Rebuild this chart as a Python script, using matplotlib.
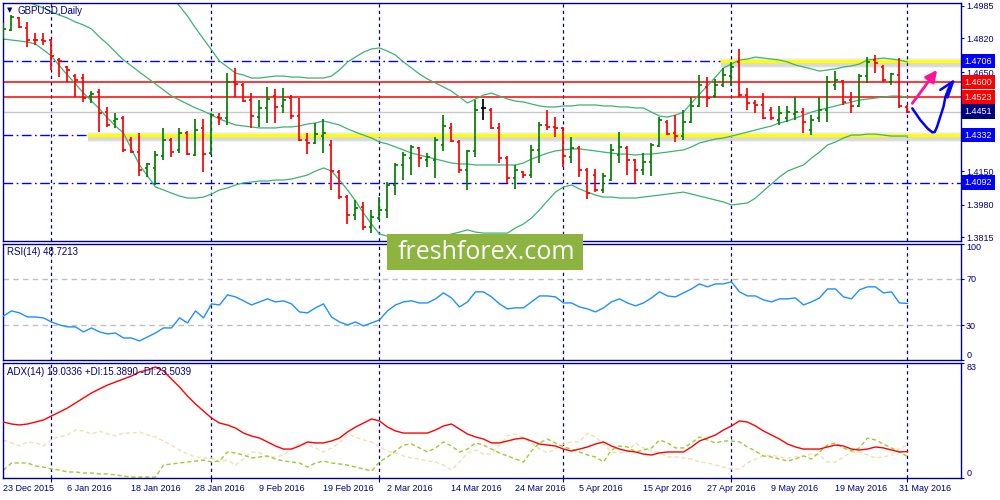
import numpy as np
import pandas as pd
import matplotlib
matplotlib.use("Agg")
import matplotlib.pyplot as plt
from matplotlib.collections import LineCollection
from matplotlib.patches import Rectangle
from matplotlib.transforms import blended_transform_factory
import matplotlib.patheffects as pe

plt.rcParams['font.family'] = ['Liberation Sans', 'DejaVu Sans']

# ---------------- data ----------------
title = "GBPUSD,Daily"
dates = pd.bdate_range("2015-12-23", "2016-06-01")
dates = dates[~dates.isin(pd.to_datetime(["2015-12-25", "2016-01-01"]))]

opens = [1.4857, 1.4863, 1.4923, 1.4873, 1.4812, 1.4812, 1.4812, 1.4711, 1.4676, 1.4630,
         1.4620, 1.4529, 1.4549, 1.4448, 1.4403, 1.4418, 1.4307, 1.4246, 1.4166, 1.4166,
         1.4226, 1.4307, 1.4257, 1.4342, 1.4231, 1.4368, 1.4241, 1.4423, 1.4418, 1.4600,
         1.4585, 1.4509, 1.4423, 1.4469, 1.4529, 1.4479, 1.4519, 1.4428, 1.4307, 1.4292,
         1.4327, 1.4282, 1.4145, 1.4019, 1.3928, 1.3969, 1.3868, 1.3913, 1.3954, 1.4080,
         1.4181, 1.4216, 1.4267, 1.4206, 1.4206, 1.4282, 1.4368, 1.4297, 1.4156, 1.4252,
         1.4469, 1.4459, 1.4368, 1.4216, 1.4115, 1.4145, 1.4130, 1.4257, 1.4383, 1.4373,
         1.4368, 1.4221, 1.4267, 1.4156, 1.4130, 1.4055, 1.4105, 1.4231, 1.4267, 1.4206,
         1.4156, 1.4196, 1.4277, 1.4398, 1.4342, 1.4327, 1.4398, 1.4479, 1.4575, 1.4529,
         1.4585, 1.4630, 1.4701, 1.4534, 1.4494, 1.4484, 1.4459, 1.4408, 1.4418, 1.4438,
         1.4448, 1.4358, 1.4418, 1.4459, 1.4585, 1.4605, 1.4509, 1.4479, 1.4630, 1.4711,
         1.4676, 1.4600, 1.4635, 1.4474]
highs = [1.4898, 1.4938, 1.4928, 1.4903, 1.4847, 1.4847, 1.4817, 1.4721, 1.4681, 1.4640,
         1.4640, 1.4554, 1.4565, 1.4474, 1.4443, 1.4428, 1.4322, 1.4342, 1.4191, 1.4252,
         1.4368, 1.4317, 1.4368, 1.4352, 1.4413, 1.4413, 1.4443, 1.4443, 1.4646, 1.4671,
         1.4595, 1.4544, 1.4509, 1.4575, 1.4565, 1.4570, 1.4534, 1.4519, 1.4342, 1.4393,
         1.4413, 1.4307, 1.4156, 1.4029, 1.4004, 1.3994, 1.3954, 1.4019, 1.4095, 1.4191,
         1.4246, 1.4282, 1.4272, 1.4241, 1.4322, 1.4433, 1.4393, 1.4307, 1.4257, 1.4509,
         1.4514, 1.4469, 1.4393, 1.4226, 1.4181, 1.4150, 1.4282, 1.4398, 1.4459, 1.4423,
         1.4373, 1.4322, 1.4277, 1.4166, 1.4161, 1.4140, 1.4287, 1.4348, 1.4277, 1.4211,
         1.4241, 1.4292, 1.4423, 1.4408, 1.4433, 1.4459, 1.4524, 1.4635, 1.4625, 1.4615,
         1.4671, 1.4701, 1.4767, 1.4570, 1.4509, 1.4544, 1.4474, 1.4479, 1.4479, 1.4524,
         1.4469, 1.4433, 1.4524, 1.4630, 1.4655, 1.4610, 1.4549, 1.4640, 1.4726, 1.4736,
         1.4686, 1.4645, 1.4721, 1.4484]
lows = [1.4817, 1.4857, 1.4873, 1.4777, 1.4787, 1.4787, 1.4661, 1.4625, 1.4600, 1.4524,
        1.4499, 1.4494, 1.4347, 1.4373, 1.4368, 1.4246, 1.4241, 1.4125, 1.4120, 1.4080,
        1.4206, 1.4221, 1.4241, 1.4231, 1.4226, 1.4145, 1.4231, 1.4383, 1.4383, 1.4524,
        1.4499, 1.4368, 1.4373, 1.4393, 1.4393, 1.4443, 1.4413, 1.4302, 1.4236, 1.4287,
        1.4241, 1.4055, 1.4009, 1.3883, 1.3903, 1.3853, 1.3837, 1.3903, 1.3913, 1.4029,
        1.4105, 1.4130, 1.4171, 1.4171, 1.4115, 1.4252, 1.4297, 1.4140, 1.4055, 1.4221,
        1.4408, 1.4363, 1.4191, 1.4090, 1.4060, 1.4115, 1.4115, 1.4191, 1.4358, 1.4322,
        1.4171, 1.4191, 1.4120, 1.4009, 1.4044, 1.4039, 1.4100, 1.4191, 1.4130, 1.4090,
        1.4130, 1.4125, 1.4272, 1.4332, 1.4297, 1.4307, 1.4393, 1.4474, 1.4474, 1.4519,
        1.4575, 1.4580, 1.4524, 1.4459, 1.4443, 1.4413, 1.4408, 1.4383, 1.4398, 1.4408,
        1.4342, 1.4332, 1.4398, 1.4398, 1.4560, 1.4484, 1.4443, 1.4474, 1.4595, 1.4645,
        1.4600, 1.4585, 1.4469, 1.4443]
closes = [1.4868, 1.4928, 1.4878, 1.4812, 1.4810, 1.4807, 1.4731, 1.4706, 1.4661, 1.4610,
          1.4519, 1.4539, 1.4443, 1.4383, 1.4413, 1.4257, 1.4246, 1.4156, 1.4186, 1.4231,
          1.4307, 1.4246, 1.4342, 1.4236, 1.4358, 1.4236, 1.4433, 1.4418, 1.4600, 1.4590,
          1.4504, 1.4428, 1.4469, 1.4514, 1.4474, 1.4509, 1.4428, 1.4307, 1.4292, 1.4337,
          1.4342, 1.4150, 1.4019, 1.3928, 1.3964, 1.3868, 1.3918, 1.3954, 1.4080, 1.4181,
          1.4231, 1.4272, 1.4216, 1.4221, 1.4307, 1.4378, 1.4302, 1.4156, 1.4252, 1.4459,
          1.4469, 1.4368, 1.4216, 1.4115, 1.4156, 1.4130, 1.4257, 1.4383, 1.4373, 1.4368,
          1.4226, 1.4267, 1.4156, 1.4039, 1.4055, 1.4125, 1.4257, 1.4272, 1.4206, 1.4156,
          1.4196, 1.4282, 1.4408, 1.4337, 1.4327, 1.4398, 1.4479, 1.4585, 1.4519, 1.4585,
          1.4635, 1.4676, 1.4534, 1.4494, 1.4484, 1.4418, 1.4418, 1.4443, 1.4448, 1.4448,
          1.4398, 1.4408, 1.4459, 1.4600, 1.4610, 1.4499, 1.4479, 1.4630, 1.4701, 1.4696,
          1.4610, 1.4640, 1.4479, 1.4451]

bb_upper = [1.5317, 1.5307, 1.5297, 1.5292, 1.5282, 1.5272, 1.5267, 1.5256, 1.5251, 1.5241,
            1.5231, 1.5226, 1.5216, 1.5201, 1.5186, 1.5171, 1.5155, 1.5140, 1.5115, 1.5090,
            1.5059, 1.5029, 1.4984, 1.4933, 1.4873, 1.4817, 1.4762, 1.4706, 1.4676, 1.4645,
            1.4635, 1.4620, 1.4620, 1.4625, 1.4630, 1.4630, 1.4625, 1.4625, 1.4620, 1.4620,
            1.4620, 1.4630, 1.4661, 1.4701, 1.4726, 1.4751, 1.4767, 1.4772, 1.4756, 1.4736,
            1.4701, 1.4671, 1.4640, 1.4615, 1.4595, 1.4575, 1.4554, 1.4524, 1.4494, 1.4514,
            1.4534, 1.4544, 1.4529, 1.4514, 1.4504, 1.4499, 1.4489, 1.4479, 1.4474, 1.4474,
            1.4479, 1.4479, 1.4484, 1.4484, 1.4484, 1.4479, 1.4479, 1.4474, 1.4474, 1.4469,
            1.4469, 1.4448, 1.4428, 1.4423, 1.4433, 1.4448, 1.4494, 1.4539, 1.4580, 1.4625,
            1.4671, 1.4691, 1.4711, 1.4716, 1.4726, 1.4721, 1.4716, 1.4711, 1.4701, 1.4686,
            1.4676, 1.4666, 1.4655, 1.4661, 1.4666, 1.4676, 1.4681, 1.4691, 1.4711, 1.4716,
            1.4721, 1.4716, 1.4711, 1.4701]
bb_middle = [1.5080, 1.5054, 1.5034, 1.5009, 1.4989, 1.4974, 1.4953, 1.4938, 1.4923, 1.4903,
             1.4888, 1.4868, 1.4827, 1.4792, 1.4751, 1.4711, 1.4681, 1.4650, 1.4620, 1.4590,
             1.4560, 1.4529, 1.4509, 1.4489, 1.4469, 1.4453, 1.4433, 1.4413, 1.4398, 1.4383,
             1.4378, 1.4373, 1.4368, 1.4368, 1.4368, 1.4373, 1.4373, 1.4378, 1.4388, 1.4393,
             1.4403, 1.4393, 1.4383, 1.4363, 1.4347, 1.4332, 1.4317, 1.4297, 1.4287, 1.4272,
             1.4257, 1.4241, 1.4231, 1.4221, 1.4211, 1.4201, 1.4191, 1.4186, 1.4186, 1.4181,
             1.4181, 1.4181, 1.4181, 1.4181, 1.4181, 1.4191, 1.4211, 1.4226, 1.4241, 1.4252,
             1.4257, 1.4262, 1.4262, 1.4257, 1.4252, 1.4246, 1.4241, 1.4236, 1.4236, 1.4231,
             1.4236, 1.4236, 1.4241, 1.4246, 1.4252, 1.4257, 1.4272, 1.4292, 1.4302, 1.4312,
             1.4317, 1.4327, 1.4337, 1.4347, 1.4358, 1.4368, 1.4378, 1.4393, 1.4403, 1.4418,
             1.4433, 1.4448, 1.4459, 1.4469, 1.4479, 1.4489, 1.4499, 1.4509, 1.4514, 1.4519,
             1.4524, 1.4529, 1.4529, 1.4524]
bb_lower = [1.4817, 1.4812, 1.4807, 1.4802, 1.4792, 1.4762, 1.4731, 1.4681, 1.4635, 1.4590,
            1.4544, 1.4504, 1.4464, 1.4418, 1.4378, 1.4342, 1.4262, 1.4181, 1.4126, 1.4070,
            1.4055, 1.4039, 1.4024, 1.4014, 1.4014, 1.4019, 1.4034, 1.4055, 1.4065, 1.4080,
            1.4090, 1.4095, 1.4100, 1.4100, 1.4105, 1.4105, 1.4110, 1.4120, 1.4130, 1.4150,
            1.4166, 1.4150, 1.4105, 1.4055, 1.4000, 1.3938, 1.3883, 1.3832, 1.3822, 1.3817,
            1.3817, 1.3817, 1.3817, 1.3817, 1.3817, 1.3822, 1.3832, 1.3842, 1.3853, 1.3842,
            1.3837, 1.3837, 1.3837, 1.3837, 1.3863, 1.3883, 1.3913, 1.3954, 1.4000, 1.4044,
            1.4070, 1.4080, 1.4060, 1.4044, 1.4029, 1.4019, 1.4019, 1.4014, 1.4014, 1.4014,
            1.4019, 1.4024, 1.4029, 1.4034, 1.4039, 1.4044, 1.4034, 1.4024, 1.4014, 1.4004,
            1.3994, 1.3979, 1.3984, 1.3989, 1.4014, 1.4050, 1.4085, 1.4120, 1.4150, 1.4166,
            1.4181, 1.4216, 1.4246, 1.4282, 1.4297, 1.4317, 1.4332, 1.4332, 1.4337, 1.4337,
            1.4332, 1.4327, 1.4327, 1.4327]

rsi = [38.0, 42.3, 40.6, 37.1, 37.1, 36.3, 32.8, 30.3, 28.6, 28.6,
       24.3, 27.7, 24.3, 22.6, 23.4, 19.1, 19.1, 16.6, 20.0, 23.4,
       27.7, 27.7, 36.3, 32.0, 42.3, 36.3, 48.3, 47.4, 56.0, 54.3,
       50.9, 47.4, 50.0, 52.6, 50.0, 50.9, 48.3, 41.4, 40.6, 44.9,
       48.3, 37.1, 32.8, 30.3, 32.8, 29.4, 32.0, 34.6, 42.3, 47.4,
       50.0, 50.9, 49.1, 49.1, 52.6, 57.7, 53.4, 45.7, 50.0, 58.6,
       58.6, 54.3, 48.3, 44.0, 44.9, 44.9, 50.0, 55.1, 55.1, 54.3,
       49.1, 49.1, 45.7, 44.0, 41.4, 44.9, 50.0, 52.6, 49.1, 46.6,
       49.1, 53.4, 58.6, 55.1, 54.3, 57.7, 61.1, 65.4, 62.9, 65.4,
       65.4, 67.2, 58.6, 55.1, 55.1, 51.7, 50.0, 52.6, 52.6, 53.4,
       47.4, 50.0, 53.4, 61.1, 61.1, 54.3, 52.6, 60.3, 62.9, 62.9,
       57.7, 58.6, 49.1, 48.72]

adx = [40.2, 38.8, 38.1, 38.8, 40.2, 41.7, 44.6, 47.4, 50.3, 53.9,
       57.5, 61.1, 64.0, 66.8, 69.0, 71.1, 73.3, 76.2, 77.6, 79.8,
       76.9, 71.1, 65.4, 58.9, 53.2, 48.1, 43.1, 39.5, 38.1, 35.9,
       32.3, 30.2, 28.7, 25.9, 23.0, 20.8, 20.8, 23.0, 25.9, 25.2,
       25.2, 26.6, 28.7, 33.1, 36.6, 39.5, 42.4, 41.0, 36.6, 33.8,
       32.3, 32.3, 32.3, 32.3, 34.5, 37.4, 38.8, 35.2, 31.6, 29.5,
       28.0, 25.2, 25.2, 26.6, 28.0, 28.7, 26.6, 24.4, 23.7, 23.0,
       20.8, 19.4, 20.8, 22.3, 24.4, 25.9, 23.0, 20.8, 19.4, 18.7,
       17.2, 16.5, 18.0, 18.7, 18.7, 18.7, 22.3, 26.6, 28.7, 30.9,
       34.5, 37.4, 41.0, 40.2, 37.4, 33.8, 30.9, 28.0, 24.4, 22.3,
       20.8, 20.8, 20.8, 22.3, 23.7, 23.0, 20.8, 20.1, 20.8, 22.3,
       21.6, 20.1, 18.7, 19.03]
plus_di = [5.7, 10.8, 10.8, 10.8, 8.6, 7.9, 6.5, 5.7, 4.3, 4.3,
           3.6, 3.6, 2.9, 2.9, 2.2, 1.4, 0.7, 0.7, 0.7, 0.7,
           9.3, 10.1, 10.8, 11.5, 12.2, 12.9, 11.5, 12.2, 18.7, 18.0,
           16.5, 14.4, 15.1, 15.8, 13.7, 12.2, 11.5, 10.8, 7.9, 10.8,
           12.2, 10.8, 10.1, 9.3, 7.9, 6.5, 5.0, 11.5, 15.1, 19.4,
           23.7, 24.4, 21.6, 18.7, 21.6, 25.9, 23.0, 18.7, 20.8, 25.2,
           23.7, 20.8, 18.0, 15.8, 13.7, 11.5, 19.4, 25.2, 28.0, 25.2,
           22.3, 20.8, 18.7, 16.5, 15.1, 11.5, 20.1, 23.0, 22.3, 18.7,
           20.1, 21.6, 27.3, 25.2, 21.6, 21.6, 25.2, 29.5, 27.3, 25.2,
           26.6, 26.6, 25.9, 22.3, 19.4, 15.8, 15.1, 13.7, 12.2, 13.7,
           15.8, 13.7, 18.7, 23.7, 25.2, 21.6, 19.4, 21.6, 28.7, 27.3,
           24.4, 21.6, 18.7, 15.39]
minus_di = [27.3, 25.2, 23.0, 25.9, 25.2, 23.0, 28.0, 29.5, 30.9, 34.5,
            33.8, 31.6, 33.8, 31.6, 30.2, 32.3, 32.3, 33.1, 30.9, 29.5,
            26.6, 23.7, 20.1, 17.2, 15.1, 14.4, 14.4, 11.5, 12.9, 9.3,
            13.7, 18.7, 18.0, 15.1, 15.1, 16.5, 20.8, 24.4, 23.7, 21.6,
            18.7, 21.6, 25.2, 31.6, 29.5, 27.3, 25.9, 22.3, 19.4, 18.0,
            15.8, 14.4, 13.7, 12.2, 11.5, 9.3, 5.7, 11.5, 18.0, 20.1,
            17.2, 17.2, 23.7, 30.2, 31.6, 28.7, 25.2, 20.8, 18.0, 20.8,
            24.4, 25.9, 25.9, 32.3, 29.5, 24.4, 18.7, 18.0, 18.7, 25.2,
            21.6, 19.4, 18.0, 15.1, 15.1, 14.4, 13.7, 11.5, 10.8, 9.3,
            7.9, 6.5, 6.5, 10.8, 13.7, 15.8, 16.5, 15.1, 14.4, 15.1,
            15.8, 17.2, 16.5, 11.5, 11.5, 15.1, 18.7, 18.7, 16.5, 14.4,
            15.1, 16.5, 21.6, 23.50]

price_ticks = [1.4985, 1.4820, 1.4650, 1.4485, 1.4315, 1.4150, 1.3980, 1.3815]
blue_levels = [1.4706, 1.4332, 1.4092]
red_levels = [1.4600, 1.4523]
yellow_levels = [1.4706, 1.4332]
yellow_start_bar = [89.6, 10.4]
tag_values = [1.4706, 1.4600, 1.4523, 1.4451, 1.4332, 1.4092]
tag_colors = ['#0000FF', '#FF0000', '#FF0000', '#000080', '#0000FF', '#0000FF']

rsi_label = "RSI(14) 48.7213"
adx_label = "ADX(14) 19.0336 +DI:15.3890 -DI:23.5039"

# hand drawn marks (bar index, price)
pink_from = (113.6, 1.4492)
pink_to = (116.7, 1.4661)
blue_x = [113.6, 114.6, 115.5, 116.1, 116.4, 116.7, 117.1, 117.5, 117.75, 118.2, 118.65]
blue_y = [1.4467, 1.4408, 1.4366, 1.4346, 1.4347, 1.4374, 1.4425, 1.4475, 1.4526, 1.4573, 1.4600]
blue_head_x = [117.1, 118.7, 118.0]
blue_head_y = [1.4560, 1.4603, 1.4522]

# ---------------- figure ----------------
NAVY = '#000080'
n = len(closes)
xs = np.arange(n)
month_starts = [i for i in range(1, n) if dates[i].month != dates[i - 1].month]
label_idx = list(range(0, n, 8))
xlabels = [f"{dates[i].day} {dates[i]:%b %Y}" for i in label_idx]

fig = plt.figure(figsize=(10, 5), dpi=100)
fig.patch.set_facecolor('white')
H = 500.0


def frame(top, bottom):
    return [0.0025, 1 - bottom / H, 0.9585, (bottom - top) / H]


ax = fig.add_axes(frame(3, 241))
ax_r = fig.add_axes(frame(243.5, 360.3))
ax_a = fig.add_axes(frame(362.5, 478))
XL = (-0.125, 119.69)
for a in (ax, ax_r, ax_a):
    a.set_xlim(*XL)
    a.set_facecolor('white')
    for s in a.spines.values():
        s.set_color(NAVY)
        s.set_linewidth(1.0)
    a.yaxis.tick_right()
    a.tick_params(axis='y', colors=NAVY, labelcolor=NAVY, labelsize=6.5,
                  length=2.5, width=0.8, pad=1.2)
    a.tick_params(axis='x', bottom=False, labelbottom=False)
    for b in month_starts:
        a.axvline(b, color=NAVY, lw=0.9, ls=(0, (2.6, 2.6)), zorder=1)

# ---- main price panel
ax.set_ylim(1.3797, 1.4999)
ax.set_yticks(price_ticks)
ax.set_yticklabels([f"{v:.4f}" for v in price_ticks])

for lv in blue_levels:
    ax.axhline(lv, color='#0000FF', lw=1.0, ls=(0, (7, 2.5, 1.2, 2.5)), zorder=1.5)
for lv in red_levels:
    ax.axhline(lv, color='#FF0000', lw=1.1, zorder=1.6)
ax.axhline(closes[-1], color='#C8C8C8', lw=1.0, zorder=1.4)
shadow = [pe.SimpleLineShadow(offset=(0.8, -1.6), shadow_color='#606060', alpha=0.10, linewidth=7),
          pe.SimpleLineShadow(offset=(0.8, -2.0), shadow_color='#606060', alpha=0.14, linewidth=4),
          pe.Normal()]
for lv, st in zip(yellow_levels, yellow_start_bar):
    ax.hlines(lv, st, XL[1], colors='#FFFF00', lw=2.3, zorder=1.8, path_effects=shadow)

for band in (bb_upper, bb_middle, bb_lower):
    ax.plot(xs, band, color='#3CB371', lw=0.9, zorder=2)

segs, cols = [], []
for i in range(n):
    o, h, l, c = opens[i], highs[i], lows[i], closes[i]
    col = '#008000' if c > o else ('#FF0000' if c < o else '#000000')
    segs += [[(i, l), (i, h)], [(i - 0.36, o), (i, o)], [(i, c), (i + 0.36, c)]]
    cols += [col] * 3
ax.add_collection(LineCollection(segs, colors=cols, linewidths=1.25, zorder=3,
                                 capstyle='butt'))

trans = blended_transform_factory(ax.transAxes, ax.transData)
for v, col in zip(tag_values, tag_colors):
    ax.text(1.0035, v, f"{v:.4f}", transform=trans, fontsize=6.5, color='white',
            va='center', ha='left', zorder=6, clip_on=False,
            bbox=dict(boxstyle='square,pad=0.3', fc=col, ec='none'))

ax.annotate('', xy=pink_to, xytext=pink_from, zorder=7,
            arrowprops=dict(arrowstyle='-|>,head_length=0.7,head_width=0.35',
                            color='#FF1493', lw=2.0, shrinkA=0, shrinkB=0))
ax.plot(blue_x, blue_y, color='#0000FF', lw=1.8, zorder=7, solid_capstyle='round')
ax.plot(blue_head_x, blue_head_y, color='#0000FF', lw=1.8, zorder=7,
        solid_joinstyle='round', solid_capstyle='round')

fig.text(0.0068, 1 - 10.5 / H, '\u25BC', fontsize=5, color=NAVY, va='center',
         ha='left', family='DejaVu Sans')
fig.text(0.018, 1 - 10.5 / H, title, fontsize=7, color=NAVY, va='center', ha='left')

# ---- RSI panel
ax_r.set_ylim(0, 100)
ax_r.set_yticks([100, 70, 30, 0])
ax_r.set_yticklabels(['100', '70', '30', '0'])
for lv in (70, 30):
    ax_r.axhline(lv, color='#C0C0C0', lw=1.0, ls=(0, (4, 3)), zorder=1.2)
ax_r.plot(xs, rsi, color='#1E90FF', lw=1.0, zorder=3)
fig.text(0.007, 1 - 252 / H, rsi_label, fontsize=7, color=NAVY, va='center', ha='left')

# ---- ADX panel
ax_a.set_ylim(0, 83)
ax_a.set_yticks([83, 0])
ax_a.set_yticklabels(['83', '0'])
ax_a.plot(xs, minus_di, color='#F5DEB3', lw=1.0, ls=(0, (3, 2)), zorder=2)
ax_a.plot(xs, plus_di, color='#9ACD32', lw=1.0, ls=(0, (3, 2)), zorder=2.1)
ax_a.plot(xs, adx, color='#FF0000', lw=1.0, zorder=3)
fig.text(0.007, 1 - 372 / H, adx_label, fontsize=7, color=NAVY, va='center', ha='left')

for a in (ax_r, ax_a):
    lo, hi = a.get_ylim()
    for t in a.yaxis.get_major_ticks():
        if abs(t.get_loc() - hi) < 1e-9:
            t.label2.set_va('top')
        elif abs(t.get_loc() - lo) < 1e-9:
            t.label2.set_va('bottom')

ax_a.set_xticks(label_idx)
ax_a.set_xticklabels(xlabels, ha='left')
ax_a.set_xticks(month_starts, minor=True)
ax_a.tick_params(axis='x', which='major', bottom=True, labelbottom=True, length=0,
                 labelsize=6.5, labelcolor=NAVY, pad=4)
ax_a.tick_params(axis='x', which='minor', bottom=True, length=3, color=NAVY, width=0.8)

# ---- logo
fig.add_artist(Rectangle((387 / 1000, 1 - 270 / H), 196 / 1000, 36 / H,
                         transform=fig.transFigure, fc='#8DB440', ec='none', zorder=20))
fig.text(486 / 1000, 1 - 252.5 / H, 'freshforex.com', fontsize=18, color='white',
         family=['Open Sans', 'DejaVu Sans'], ha='center', va='center', zorder=21)

fig.savefig('out.png', dpi=100, facecolor='white')
